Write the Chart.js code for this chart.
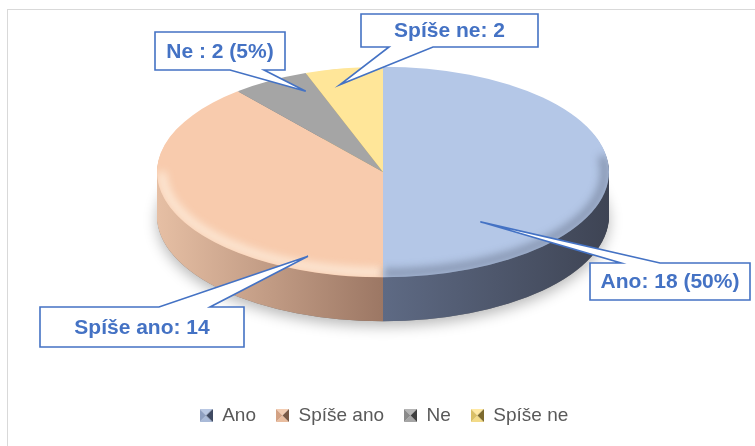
<!DOCTYPE html>
<html><head><meta charset="utf-8">
<script src="https://cdn.jsdelivr.net/npm/chart.js@4/dist/chart.umd.min.js"></script>
<style>
html,body{margin:0;padding:0;background:#fff;}
#wrap{position:relative;width:755px;height:446px;overflow:hidden;background:#fff;}
#frame{position:absolute;left:7px;top:9px;width:770px;height:460px;border:1px solid #d9d9d9;box-sizing:border-box;}
canvas{position:absolute;left:0;top:0;}
</style></head><body>
<div id="wrap"><div id="frame"></div><canvas id="c" width="755" height="446"></canvas></div>
<script>
// ---- data ----
const categories = ['Ano', 'Spíše ano', 'Ne', 'Spíše ne'];
const values = [18, 14, 2, 2];
const labelTexts = ['Ano: 18 (50%)', 'Spíše ano: 14', 'Ne : 2 (5%)', 'Spíše ne: 2'];

// ---- style ----
const topColors = ['#B4C7E7', '#F8CBAD', '#A5A5A5', '#FFE699'];
const sideColors = [
  ['#5E6A84', '#5E6A84', '#3E4454'],
  ['#E6BFA4', '#9C7764', '#9C7764'],
  ['#8A8A8A', '#6A6A6A', '#6A6A6A'],
  ['#D9C27A', '#B09A55', '#B09A55']
];
// top, bottom, left, right
const markerShades = [
  ['#b9c8e3', '#a9bad8', '#8e9fc0', '#3f4a62'],
  ['#f3cdb3', '#e9bd9f', '#d3a284', '#7a5a47'],
  ['#b5b5b5', '#a5a5a5', '#8a8a8a', '#3e3e3e'],
  ['#ffe9a3', '#f3db88', '#d9bf66', '#7d6a2e']
];
const PIE = { cx: 383, cy: 172, r: 226, k: 0.466, depth: 44 };
const callouts = [
  { angleFrac: 0.765, radFrac: 0.64, box: [590, 263, 160, 37], side: 'top', base: [621, 660] },
  { angleFrac: 0.161, radFrac: 0.866, box: [40, 307, 204, 40], side: 'top', base: [159, 210] },
  { angleFrac: 0.80, radFrac: 0.84, box: [155, 32, 130, 38], side: 'bottom', base: [230, 264] },
  { angleFrac: 0.35, radFrac: 0.85, box: [361, 14, 177, 33], side: 'bottom', base: [389, 433] }
];

function makeMarker(sh) {
  const c = document.createElement('canvas');
  c.width = 13; c.height = 13;
  const g = c.getContext('2d');
  const tri = (pts, col) => { g.beginPath(); g.moveTo(pts[0], pts[1]); g.lineTo(pts[2], pts[3]); g.lineTo(6.5, 6.5); g.closePath(); g.fillStyle = col; g.fill(); };
  tri([0, 0, 13, 0], sh[0]);
  tri([0, 13, 13, 13], sh[1]);
  tri([0, 0, 0, 13], sh[2]);
  tri([13, 0, 13, 13], sh[3]);
  return c;
}
const markers = markerShades.map(makeMarker);

const pie3d = {
  id: 'pie3d',
  beforeDatasetsDraw(chart) {
    const ctx = chart.ctx;
    const meta = chart.getDatasetMeta(0);
    const { cx, cy, r, k, depth } = PIE;
    ctx.save();
    ctx.shadowColor = 'rgba(0,0,0,0.28)';
    ctx.shadowBlur = 14;
    ctx.shadowOffsetY = 5;
    ctx.beginPath();
    ctx.ellipse(cx, cy + depth, r, r * k, 0, 0, Math.PI * 2);
    ctx.fillStyle = '#777';
    ctx.fill();
    ctx.restore();
    meta.data.forEach((arc, i) => {
      const p = arc.getProps(['startAngle', 'endAngle'], true);
      const grad = ctx.createLinearGradient(cx - r, 0, cx + r, 0);
      grad.addColorStop(0, sideColors[i][0]);
      grad.addColorStop(0.5, sideColors[i][1]);
      grad.addColorStop(1, sideColors[i][2]);
      ctx.fillStyle = grad;
      for (let d = depth; d >= 1; d--) {
        ctx.save();
        ctx.translate(cx, cy + d);
        ctx.scale(1, k);
        ctx.beginPath();
        ctx.moveTo(0, 0);
        ctx.arc(0, 0, r, p.startAngle, p.endAngle);
        ctx.closePath();
        ctx.restore();
        ctx.fill();
      }
    });
    const a0 = meta.data[0];
    ctx.save();
    ctx.translate(cx, cy);
    ctx.scale(1, k);
    ctx.translate(-a0.x, -a0.y);
  },
  afterDatasetsDraw(chart) {
    const ctx = chart.ctx;
    ctx.restore();
    const { cx, cy, r, k } = PIE;
    ctx.save();
    ctx.beginPath();
    ctx.ellipse(cx, cy, r, r * k, 0, 0, Math.PI * 2);
    ctx.clip();
    ctx.filter = 'blur(4px)';
    ctx.lineWidth = 8;
    ctx.beginPath();
    ctx.ellipse(cx, cy, r - 5, r * k - 5, 0, Math.PI * 0.5, Math.PI * 1.0);
    ctx.strokeStyle = 'rgba(255,245,232,0.75)';
    ctx.stroke();
    ctx.beginPath();
    ctx.ellipse(cx, cy, r - 4, r * k - 4, 0, Math.PI * -0.05, Math.PI * 0.5);
    ctx.strokeStyle = 'rgba(70,80,100,0.45)';
    ctx.stroke();
    ctx.restore();

    const meta = chart.getDatasetMeta(0);
    meta.data.forEach((arc, i) => {
      const c = callouts[i];
      const p = arc.getProps(['x', 'y', 'startAngle', 'endAngle', 'outerRadius'], true);
      const ang = p.startAngle + c.angleFrac * (p.endAngle - p.startAngle);
      const tx = cx + Math.cos(ang) * p.outerRadius * c.radFrac;
      const ty = cy + Math.sin(ang) * p.outerRadius * c.radFrac * k;
      const [bx, by, bw, bh] = c.box;
      ctx.save();
      ctx.beginPath();
      if (c.side === 'top') {
        ctx.moveTo(bx, by); ctx.lineTo(c.base[0], by); ctx.lineTo(tx, ty); ctx.lineTo(c.base[1], by);
        ctx.lineTo(bx + bw, by); ctx.lineTo(bx + bw, by + bh); ctx.lineTo(bx, by + bh);
      } else {
        ctx.moveTo(bx, by); ctx.lineTo(bx + bw, by); ctx.lineTo(bx + bw, by + bh); ctx.lineTo(c.base[1], by + bh);
        ctx.lineTo(tx, ty); ctx.lineTo(c.base[0], by + bh); ctx.lineTo(bx, by + bh);
      }
      ctx.closePath();
      ctx.fillStyle = '#ffffff';
      ctx.fill();
      ctx.lineWidth = 1.6;
      ctx.strokeStyle = '#4472C4';
      ctx.stroke();
      ctx.fillStyle = '#4472C4';
      ctx.font = 'bold 21px "Liberation Sans", Arial, sans-serif';
      ctx.textAlign = 'center';
      ctx.textBaseline = 'middle';
      ctx.fillText(labelTexts[i], bx + bw / 2, by + bh / 2 + 1);
      ctx.restore();
    });
  }
};

new Chart(document.getElementById('c'), {
  type: 'pie',
  data: {
    labels: categories,
    datasets: [{
      data: values,
      backgroundColor: topColors,
      borderWidth: 0,
      radius: PIE.r,
      clip: false
    }]
  },
  options: {
    responsive: false,
    animation: false,
    events: [],
    layout: { padding: { left: 13, right: 0, top: 0, bottom: 11 } },
    plugins: {
      tooltip: { enabled: false },
      legend: {
        position: 'bottom',
        labels: {
          usePointStyle: true,
          boxWidth: 13,
          boxHeight: 13,
          padding: 20,
          color: '#595959',
          font: { family: '"Liberation Sans", Arial, sans-serif', size: 19 },
          generateLabels(chart) {
            return categories.map((t, i) => ({
              text: t, pointStyle: markers[i], fillStyle: topColors[i],
              strokeStyle: topColors[i], lineWidth: 0, hidden: false, index: i, fontColor: '#595959'
            }));
          }
        }
      }
    }
  },
  plugins: [pie3d]
});
</script>
</body></html>
